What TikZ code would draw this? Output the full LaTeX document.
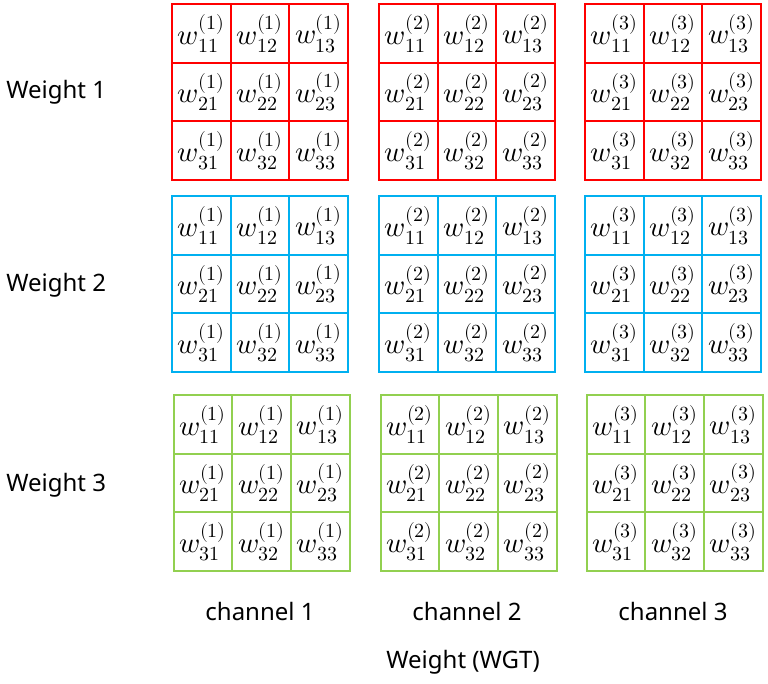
\documentclass[tikz,border=0pt]{standalone}
\usepackage{amsmath}
\usepackage{fontspec}
\usepackage{unicode-math}
\setmainfont{Noto Sans}
\setmathfont{Latin Modern Math}
\DeclareMathSizes{21.5}{21.5}{15}{11}
\usepackage{tikz}
\usetikzlibrary{positioning}
\definecolor{wred}{HTML}{FF0000}
\definecolor{wblue}{HTML}{00B0F0}
\definecolor{wgreen}{HTML}{92D050}
\begin{document}
\begin{tikzpicture}[x=0.75pt,y=-0.75pt,
  cell/.style={draw,line width=1.5pt,minimum size=44pt,inner sep=0pt,outer sep=0pt,
    font=\fontsize{21.5}{25}\selectfont},
  lbl/.style={inner sep=0pt,font=\fontsize{18}{21}\selectfont}]
\useasboundingbox (0,0) rectangle (768,683);
% weight kernels, one row per weight, one block per channel
\foreach \wt/\col/\y/\dx in {1/wred/4/0,2/wblue/196/0,3/wgreen/395/1.5}
  \foreach \ch/\x in {1/172,2/379,3/585}
    \foreach \i in {1,2,3}
      \foreach \j in {1,2,3}
        \node[cell,draw=\col] (w\wt-c\ch-\i\j)
          at ({\x+\dx+(\j-0.5)*58.67},{\y+(\i-0.5)*58.67}) {$w_{\i\j}^{(\ch)}$};
\path
(6,92)   node[lbl,anchor=west] (wt1) {Weight 1}
(6,285)  node[lbl,anchor=west] (wt2) {Weight 2}
(6,485)  node[lbl,anchor=west] (wt3) {Weight 3}
(260,620) node[lbl,anchor=base] (ch1) {channel 1}
(467,620) node[lbl,anchor=base] (ch2) {channel 2}
(673,620) node[lbl,anchor=base] (ch3) {channel 3}
(463,668) node[lbl,anchor=base] (wgt) {Weight (WGT)};
\end{tikzpicture}
\end{document}
